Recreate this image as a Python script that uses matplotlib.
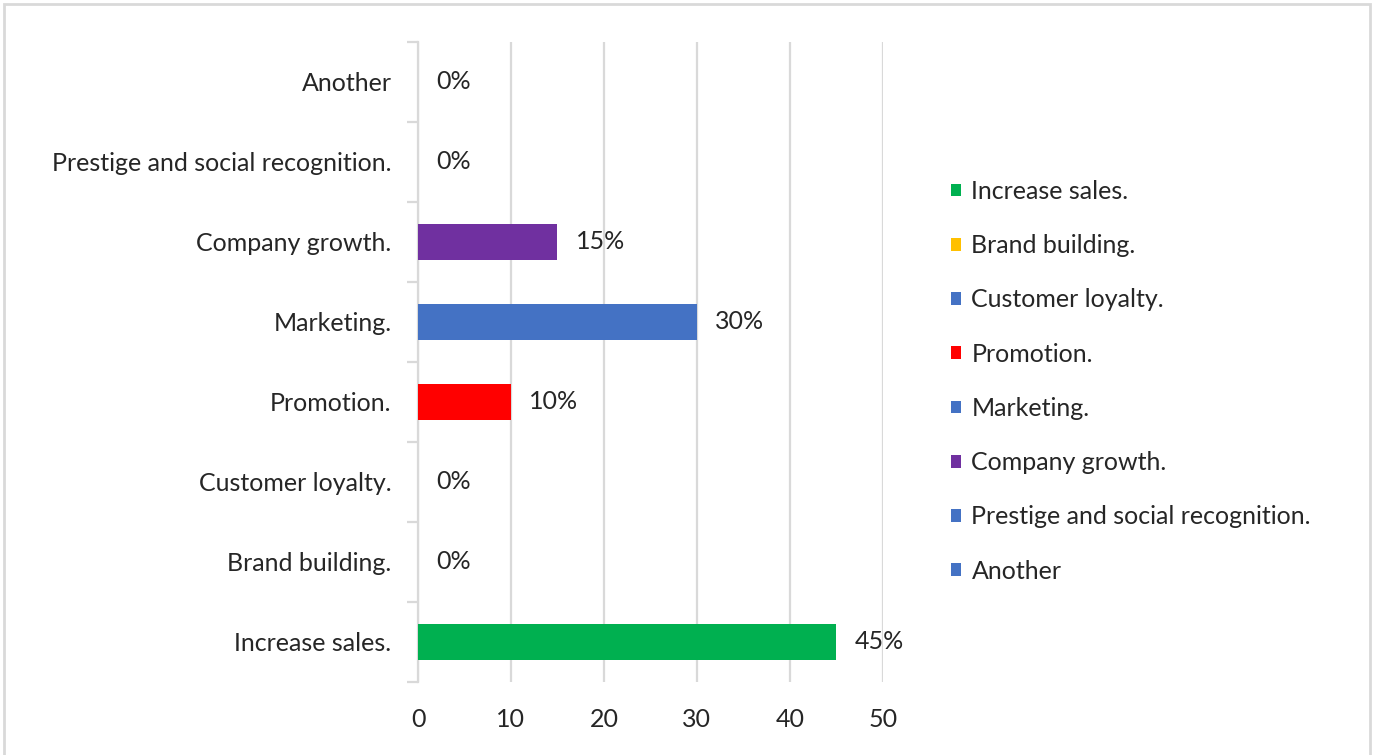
import matplotlib
matplotlib.use("Agg")
from matplotlib import pyplot as plt
from matplotlib.patches import Rectangle

# survey answers, bottom row first
categories = ["Increase sales.", "Brand building.", "Customer loyalty.", "Promotion.",
              "Marketing.", "Company growth.", "Prestige and social recognition.", "Another"]
percentages = [45, 0, 0, 10, 30, 15, 0, 0]
colors = ["#00B050", "#FFC000", "#4472C4", "#FF0000",
          "#4472C4", "#7030A0", "#4472C4", "#4472C4"]
xTicks = [0, 10, 20, 30, 40, 50]

textColor = "#262626"
gridColor = "#D9D9D9"
plt.rcParams["font.family"] = ["Lato", "DejaVu Sans"]
fontSize = 18

fig = plt.figure(figsize=(13.75, 7.55), dpi=100)
ax = fig.add_axes([0.304, 0.0967, 0.338, 0.8477])

for i in range(len(categories)):
    ax.barh(i, percentages[i], height=0.44, color=colors[i], label=categories[i], zorder=3)
    ax.annotate(str(percentages[i]) + "%", xy=(percentages[i], i), xytext=(13, 0),
                textcoords="offset points", va="center", ha="left",
                fontsize=fontSize, color=textColor)

ax.set_xlim(0, 50)
ax.set_ylim(-0.5, len(categories) - 0.5)
ax.set_xticks(xTicks)
ax.set_yticks(range(len(categories)))
ax.set_yticklabels(categories)
ax.set_yticks([i - 0.5 for i in range(len(categories) + 1)], minor=True)

ax.grid(axis="x", color=gridColor, linewidth=1.6, zorder=0)
for side in ["top", "right", "bottom"]:
    ax.spines[side].set_visible(False)
ax.spines["left"].set_color(gridColor)
ax.spines["left"].set_linewidth(1.6)

ax.tick_params(axis="x", length=0, pad=19, labelsize=fontSize, labelcolor=textColor)
ax.tick_params(axis="y", which="major", length=0, pad=19, labelsize=fontSize, labelcolor=textColor)
ax.tick_params(axis="y", which="minor", length=8, width=1.6, color=gridColor)

ax.legend(loc="upper left", bbox_to_anchor=(0.692, 0.7616), bbox_transform=fig.transFigure,
          frameon=False, fontsize=fontSize, labelcolor=textColor,
          handlelength=0.4, handleheight=0.4, handletextpad=0.4,
          labelspacing=1.25, borderpad=0, borderaxespad=0)

# light frame around the whole chart
fig.patches.append(Rectangle((4 / 1375, -0.01), 1366 / 1375, 1.0 - 4 / 755 + 0.01,
                             transform=fig.transFigure, fill=False,
                             edgecolor=gridColor, linewidth=2))

fig.savefig("out.png", dpi=100)
